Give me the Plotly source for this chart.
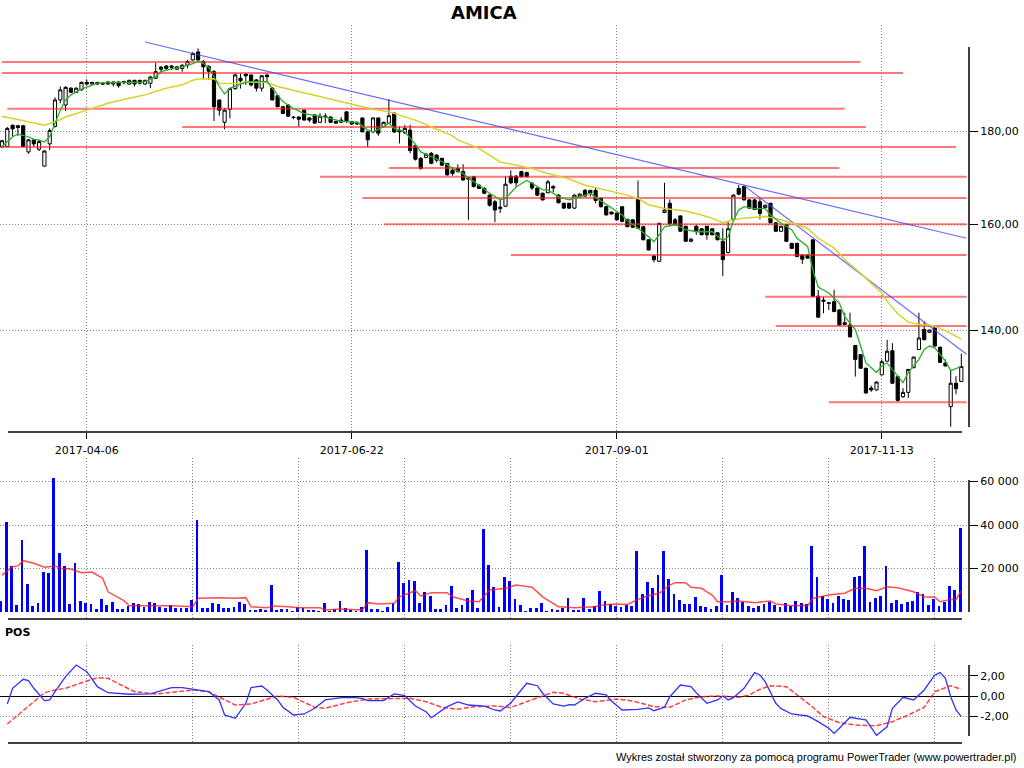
import plotly.graph_objects as go

W, H = 1024, 768

# ---------------- data ----------------
date_tick_idx = [16, 66, 116, 166]
date_tick_text = ["2017-04-06", "2017-06-22", "2017-09-01", "2017-11-13"]
minor_grid_idx = [16, 36, 56, 76, 96, 116, 136, 156, 176]

opens = [176.4, 176.5, 181.3, 181.2, 181.2, 175.3, 178.0, 175.9, 172.2, 177.1,
         181.0, 187.2, 186.0, 190.0, 189.0, 189.6, 191.4, 191.0, 191.4, 191.2,
         191.5, 191.0, 191.5, 191.3, 191.0, 191.9, 191.9, 191.0, 191.2, 192.4,
         195.1, 195.4, 195.4, 194.6, 194.8, 195.6, 196.9, 198.9, 196.5, 195.3,
         194.0, 187.2, 182.0, 185.0, 189.9, 192.4, 193.4, 193.2, 192.0, 190.0,
         193.2, 190.0, 188.2, 185.6, 186.0, 183.2, 183.2, 184.8, 183.0, 183.7,
         182.0, 183.2, 183.2, 182.2, 182.0, 184.4, 182.2, 182.0, 183.0, 179.8,
         179.8, 183.0, 181.0, 181.8, 184.1, 180.2, 179.6, 180.2, 176.7, 173.9,
         174.1, 175.0, 174.6, 173.9, 172.8, 171.3, 171.7, 171.0, 169.7, 169.9,
         168.1, 167.4, 166.0, 164.6, 163.2, 163.7, 170.0, 170.0, 171.0, 170.8,
         168.5, 167.5, 166.4, 166.5, 167.8, 166.0, 164.3, 164.3, 163.3, 165.6,
         167.0, 167.0, 167.0, 165.4, 163.6, 162.5, 162.3, 163.6, 161.0, 160.9,
         165.1, 159.5, 156.9, 153.7, 152.7, 162.4, 164.3, 160.9, 161.7, 159.6,
         156.6, 159.6, 159.1, 159.6, 159.1, 158.3, 156.6, 154.4, 161.0, 167.4,
         167.8, 165.0, 165.0, 164.6, 163.4, 164.3, 160.3, 158.6, 159.9, 156.2,
         156.2, 153.9, 153.9, 156.9, 146.1, 145.4, 144.9, 145.1, 143.6, 141.3,
         140.9, 137.3, 135.7, 133.4, 130.1, 129.8, 132.3, 134.6, 136.4, 132.0,
         128.7, 129.4, 133.5, 136.6, 140.1, 139.6, 140.4, 137.0, 134.3, 127.1,
         130.9, 131.2]
highs = [178.0, 180.9, 181.5, 181.4, 181.4, 178.2, 178.2, 178.0, 175.7, 180.6,
         187.8, 190.4, 190.5, 190.2, 190.2, 191.6, 192.0, 191.5, 191.5, 191.4,
         191.6, 191.6, 191.6, 191.8, 192.0, 192.0, 192.0, 192.0, 193.0, 196.2,
         195.4, 195.6, 195.6, 195.4, 195.8, 196.9, 198.9, 199.8, 196.9, 195.6,
         194.4, 187.2, 185.3, 189.9, 193.6, 193.6, 193.6, 193.2, 192.2, 193.2,
         193.3, 190.3, 188.4, 185.8, 186.2, 183.4, 183.4, 184.9, 183.2, 183.8,
         184.1, 184.1, 183.4, 182.3, 183.2, 184.4, 182.3, 182.1, 183.0, 180.0,
         183.0, 183.0, 182.1, 187.4, 184.2, 181.0, 181.4, 181.4, 176.9, 174.2,
         175.1, 175.3, 174.8, 174.0, 172.8, 172.0, 172.6, 172.6, 169.9, 170.1,
         168.3, 167.7, 166.2, 165.0, 165.0, 170.0, 171.3, 170.3, 171.2, 171.0,
         168.8, 167.6, 166.5, 169.2, 168.1, 166.2, 164.4, 164.4, 166.2, 166.4,
         167.3, 167.1, 167.5, 165.4, 163.7, 162.5, 162.3, 163.7, 161.1, 161.0,
         169.1, 159.7, 157.0, 153.9, 160.3, 168.6, 165.1, 161.3, 161.8, 159.7,
         157.3, 159.9, 159.1, 159.7, 159.1, 158.3, 159.2, 160.6, 166.2, 168.1,
         168.0, 165.2, 165.2, 165.4, 164.0, 164.4, 160.4, 159.7, 160.0, 156.3,
         156.3, 154.0, 154.0, 156.9, 147.3, 146.0, 144.9, 147.3, 143.7, 143.1,
         143.1, 137.3, 135.8, 133.5, 130.5, 131.2, 134.9, 138.3, 137.7, 132.2,
         130.1, 133.3, 135.4, 143.1, 141.5, 140.1, 140.4, 137.1, 134.9, 133.2,
         132.1, 135.9]
lows = [176.2, 176.4, 178.7, 178.9, 176.3, 174.9, 176.4, 175.5, 172.1, 175.7,
        180.8, 186.4, 184.6, 188.8, 188.8, 189.4, 190.7, 190.8, 190.8, 190.8,
        190.8, 190.4, 190.1, 190.9, 190.8, 190.4, 190.9, 190.8, 190.0, 192.2,
        193.7, 194.4, 194.4, 194.4, 194.0, 194.8, 196.7, 196.7, 192.2, 192.0,
        182.3, 183.5, 180.4, 182.9, 189.6, 189.9, 190.8, 190.4, 189.2, 189.2,
        191.2, 187.1, 185.5, 183.9, 183.3, 182.7, 181.0, 182.4, 182.0, 181.6,
        181.8, 181.8, 181.8, 181.6, 181.8, 181.8, 181.4, 181.4, 179.8, 176.4,
        179.5, 178.9, 180.8, 181.6, 179.5, 177.2, 179.3, 175.0, 173.4, 171.4,
        173.9, 172.6, 173.0, 172.2, 170.1, 170.1, 170.8, 169.1, 160.9, 167.6,
        167.3, 166.2, 163.6, 160.4, 162.3, 163.5, 168.3, 167.8, 169.8, 169.8,
        167.1, 165.8, 164.9, 166.4, 166.6, 164.3, 163.1, 163.1, 163.1, 165.4,
        165.7, 165.7, 164.3, 163.4, 161.8, 162.0, 160.8, 160.4, 159.5, 159.3,
        159.1, 156.8, 154.8, 152.5, 152.6, 162.3, 160.0, 159.7, 158.5, 156.5,
        156.4, 157.9, 157.8, 156.9, 157.8, 156.8, 149.9, 154.2, 160.9, 166.0,
        164.9, 163.1, 162.9, 161.0, 163.3, 160.2, 158.5, 158.5, 156.5, 155.2,
        153.5, 152.2, 153.2, 146.0, 142.2, 143.0, 143.6, 143.2, 140.8, 140.9,
        138.7, 132.0, 133.4, 129.2, 129.5, 129.7, 132.2, 134.5, 130.9, 127.9,
        128.5, 128.5, 133.4, 136.5, 138.2, 139.5, 137.1, 134.3, 133.7, 123.9,
        129.1, 131.1]
closes = [177.8, 180.6, 180.5, 180.8, 176.5, 178.0, 177.1, 177.6, 175.5, 180.1,
          187.2, 189.6, 190.2, 189.0, 190.0, 191.4, 191.0, 191.4, 191.0, 191.0,
          191.0, 191.5, 190.6, 191.6, 191.9, 191.0, 191.2, 191.9, 192.7, 194.0,
          194.6, 194.8, 195.1, 195.2, 195.6, 196.5, 198.5, 196.9, 195.2, 194.1,
          185.6, 184.8, 184.8, 189.9, 193.2, 191.8, 193.0, 190.8, 190.0, 193.0,
          192.8, 187.2, 185.6, 184.0, 183.4, 183.1, 182.7, 182.5, 182.5, 181.8,
          183.4, 183.4, 182.0, 181.8, 182.5, 182.3, 181.6, 181.6, 179.8, 178.0,
          183.0, 179.5, 182.0, 183.5, 179.8, 179.8, 180.6, 175.6, 173.7, 171.7,
          174.8, 172.8, 173.5, 172.4, 170.3, 170.6, 171.0, 169.2, 169.4, 167.8,
          167.4, 166.4, 163.9, 162.9, 163.5, 168.3, 168.6, 168.6, 169.9, 169.9,
          167.5, 166.0, 165.0, 168.8, 167.5, 164.4, 163.3, 163.3, 166.0, 166.2,
          165.8, 166.4, 164.9, 163.6, 161.9, 162.1, 160.9, 160.6, 159.5, 159.4,
          159.2, 156.9, 154.9, 153.0, 160.2, 162.9, 160.1, 159.9, 158.6, 156.6,
          157.0, 158.6, 157.9, 157.9, 157.9, 156.9, 153.0, 159.1, 166.0, 166.2,
          165.0, 163.3, 163.0, 162.2, 163.9, 160.3, 158.6, 159.6, 156.6, 155.2,
          153.6, 153.1, 153.3, 146.1, 142.3, 145.2, 144.8, 143.3, 140.9, 141.0,
          138.8, 134.9, 133.4, 129.3, 129.8, 131.1, 134.5, 136.3, 130.9, 128.1,
          129.4, 133.2, 135.3, 138.6, 138.3, 140.0, 137.2, 134.4, 133.8, 130.9,
          130.0, 133.7]
volume = [5000, 41500, 21200, 3200, 33100, 12900, 2800, 4100, 18400, 17900,
          61600, 27100, 21200, 3700, 22500, 5100, 4100, 3700, 1400, 6000,
          3200, 4600, 1400, 1400, 2800, 4100, 3700, 2300, 4600, 4100,
          2300, 1800, 3200, 1800, 1800, 1800, 5500, 42300, 1800, 1800,
          4100, 3700, 1800, 1800, 2300, 4600, 3700, 900, 900, 1400,
          900, 12400, 900, 1400, 1400, 300, 2300, 1800, 900, 900,
          300, 4100, 300, 1400, 5100, 1800, 900, 300, 2300, 28500,
          1400, 1400, 300, 2300, 4100, 23000, 13300, 14700, 14300, 4100,
          9200, 7400, 1400, 1400, 3200, 12000, 1800, 3200, 6400, 10100,
          1800, 38200, 21600, 11500, 2300, 16100, 14300, 6000, 3200, 300,
          1800, 1800, 4100, 300, 1400, 900, 1800, 6400, 900, 900,
          6400, 1400, 2800, 9700, 5100, 3700, 2800, 2300, 3200, 2800,
          28000, 8300, 13800, 11000, 17000, 28000, 15200, 8300, 5500, 3700,
          3700, 6900, 2800, 2300, 1400, 2800, 17000, 3200, 9200, 6400,
          4600, 2800, 1800, 2800, 3700, 4600, 3200, 2300, 4100, 2800,
          5100, 4100, 3700, 30400, 16100, 7400, 6000, 4100, 7400, 6000,
          5500, 16100, 16600, 30400, 4600, 6400, 7400, 21200, 4100, 5500,
          3700, 4600, 5100, 9200, 8300, 3200, 6000, 2800, 4600, 12000,
          10100, 38600]

# short moving average (green), sampled from the chart
ma_short_idx = [0, 2, 3, 5, 6, 7, 8, 9, 10, 11, 12, 13, 15, 17, 18, 22, 26, 27, 29, 30,
                32, 34, 36, 37, 38, 39, 40, 41, 42, 43, 46, 47, 50, 51, 53, 55, 57, 61, 64, 67,
                69, 70, 72, 73, 74, 76, 78, 79, 81, 83, 85, 87, 88, 90, 92, 94, 95, 97, 99, 100,
                102, 103, 105, 107, 109, 111, 113, 115, 117, 118, 120, 122, 123, 124, 125, 127, 129, 131, 134, 136,
                137, 138, 139, 140, 142, 144, 145, 147, 149, 150, 152, 153, 154, 156, 158, 159, 161, 162, 163, 165,
                166, 167, 169, 170, 171, 173, 174, 175, 176, 178, 179, 181]
ma_short_val = [176.5, 178.7, 179.3, 178.7, 178.1, 178.0, 177.5, 178.7, 181.7, 184.8, 187.2, 188.4, 189.8, 190.8, 191.2, 191.4, 191.4, 191.6, 192.8, 194.0,
                194.7, 195.2, 196.0, 196.6, 196.0, 195.1, 192.8, 190.4, 188.6, 190.0, 191.4, 191.6, 191.6, 190.0, 186.8, 185.2, 184.0, 183.2, 182.2, 182.0,
                180.2, 179.8, 181.0, 181.8, 180.6, 179.8, 177.0, 175.3, 174.3, 173.2, 171.7, 170.6, 169.6, 168.1, 166.4, 165.0, 165.3, 167.7, 169.1, 168.5,
                167.1, 167.1, 165.7, 165.0, 165.6, 166.4, 164.8, 163.3, 161.9, 160.7, 159.2, 157.5, 156.5, 157.9, 159.5, 159.9, 158.9, 158.5, 158.5, 156.7,
                157.5, 160.8, 162.9, 163.6, 163.2, 163.2, 161.9, 160.2, 158.9, 157.2, 155.6, 151.0, 147.8, 146.7, 144.8, 142.4, 140.1, 137.2, 134.3, 132.7,
                133.8, 134.3, 132.0, 131.0, 132.7, 134.9, 136.6, 137.2, 136.9, 134.6, 133.0, 133.7]

# long moving average (yellow), sampled from the chart
ma_long_idx = [0, 3, 7, 8, 10, 12, 16, 20, 24, 27, 29, 31, 34, 36, 37, 40, 41, 44, 46, 50,
               52, 56, 60, 64, 67, 70, 73, 75, 78, 81, 85, 86, 90, 94, 97, 100, 103, 107, 110, 114,
               118, 120, 122, 125, 129, 132, 134, 136, 138, 140, 144, 147, 149, 152, 154, 157, 159, 162, 164, 166,
               167, 169, 171, 173, 175, 177, 179, 181]
ma_long_val = [183.4, 182.6, 181.7, 181.3, 182.1, 183.2, 184.8, 186.4, 187.6, 188.4, 189.2, 190.0, 190.8, 191.9, 192.2, 192.3, 191.2, 191.1, 191.4, 191.4,
               190.4, 189.2, 188.0, 186.8, 186.0, 185.0, 184.4, 183.6, 182.5, 180.9, 178.9, 178.0, 176.1, 173.1, 172.4, 171.7, 170.6, 169.4, 168.1, 167.1,
               166.0, 165.3, 164.0, 163.2, 162.7, 161.9, 161.2, 160.3, 160.9, 161.2, 161.6, 160.9, 160.2, 159.2, 157.2, 155.3, 153.0, 150.4, 148.5, 146.7,
               145.2, 142.9, 141.4, 141.0, 140.9, 140.3, 139.4, 138.4]

# support / resistance levels
level_price = [196.4, 193.7, 185.1, 180.9, 176.4, 171.8, 169.9, 165.4, 160.0, 153.9, 146.0, 140.7, 127.8]
level_from = [0, 0, 1, 34, 0, 73, 60, 68, 72, 96, 144, 146, 156]
level_to = [162, 170, 159, 163, 180, 158, 182, 182, 182, 182, 182, 182, 182]

# trend lines
trend_from_idx = [27, 140]
trend_from_price = [201.4, 168.0]
trend_to_idx = [182, 182]
trend_to_price = [157.2, 135.8]

# volume moving average
vol_ma_idx = [0, 2, 3, 4, 6, 8, 10, 11, 13, 15, 17, 19, 20, 22, 23, 24, 28, 32, 36, 37,
              41, 44, 46, 47, 50, 51, 54, 56, 60, 61, 64, 68, 69, 71, 74, 75, 78, 79, 81, 84,
              85, 88, 90, 92, 95, 97, 100, 102, 105, 108, 112, 113, 116, 118, 120, 122, 124, 126, 127, 129,
              130, 132, 133, 134, 135, 137, 139, 142, 145, 146, 149, 152, 153, 156, 159, 161, 163, 165, 167, 169,
              172, 174, 176, 177, 179, 180, 181]
vol_ma_val = [17000, 20800, 21200, 23600, 22400, 20600, 21200, 20100, 19800, 18100, 18400, 15500, 9300, 6300, 5200, 2900, 2900, 2900, 2400, 6300,
              6600, 6300, 6600, 2400, 2000, 2800, 2400, 2000, 2000, 900, 1400, 900, 4300, 3700, 4000, 7000, 9800, 7400, 8900, 8900,
              7000, 5100, 4700, 10100, 10900, 12400, 11400, 7000, 2400, 2000, 2400, 3200, 3700, 3500, 5800, 7500, 8600, 12400, 13500, 13500,
              11400, 10900, 9300, 7800, 4700, 4700, 5100, 4300, 5100, 3700, 2900, 2900, 6300, 7800, 8600, 10900, 10900, 9800, 11600, 11200,
              9300, 7000, 6800, 4700, 5800, 5800, 9700]

# POS oscillator (blue) and its signal (red dashed)
pos_idx = [1, 2, 4, 5, 6, 8, 9, 10, 12, 14, 16, 18, 20, 24, 28, 32, 34, 37, 39, 41,
           42, 44, 46, 47, 49, 50, 52, 53, 55, 57, 59, 61, 64, 66, 68, 69, 72, 74, 76, 78,
           80, 81, 84, 86, 88, 91, 93, 94, 96, 99, 101, 102, 104, 106, 107, 108, 110, 112, 114, 115,
           117, 120, 122, 123, 125, 126, 128, 130, 131, 133, 135, 136, 137, 138, 140, 142, 143, 144, 146, 147,
           149, 152, 154, 156, 157, 158, 160, 162, 163, 165, 167, 168, 170, 172, 174, 176, 177, 178, 179, 180, 181]
pos_val = [-0.76, 0.79, 1.67, 1.54, 0.79, -0.43, -0.36, 0.45, 1.93, 3.08, 2.42, 0.95, 0.35, 0.20, 0.23, 0.85, 0.85, 0.62, 0.45, -0.36,
           -1.84, -2.17, -0.69, 0.85, 1.01, 0.62, -0.36, -1.08, -1.84, -1.74, -1.18, -0.36, -0.14, -0.10, -0.20, -0.43, -0.43, 0.23, 0.06, -0.96,
           -1.52, -2.11, -1.02, -0.56, -0.86, -0.96, -1.35, -1.45, -0.66, 1.28, 1.04, 0.30, -0.76, -0.96, -0.83, -0.86, -0.20, 0.30, 0.13, -0.46,
           -1.35, -1.28, -1.15, -1.42, -1.08, -0.04, 1.11, 0.95, 0.35, -0.69, -0.36, 0.03, -0.36, -0.14, 0.79, 2.33, 2.10, 1.44, -0.69, -1.22,
           -1.74, -1.94, -2.50, -3.15, -3.65, -3.15, -2.07, -2.24, -2.33, -3.84, -3.00, -1.18, -0.10, -0.36, 0.62, 2.10, 2.33, 1.77, -0.04, -1.35, -2.01]
pos_sig_idx = [1, 3, 6, 8, 10, 12, 15, 18, 20, 25, 29, 32, 36, 39, 44, 47, 52, 55, 59, 61,
               65, 69, 73, 77, 80, 83, 86, 89, 93, 96, 99, 102, 104, 106, 109, 112, 116, 119, 123, 126,
               129, 132, 135, 139, 141, 143, 145, 148, 150, 153, 155, 158, 161, 165, 168, 171, 174, 176, 179, 181]
pos_sig_val = [-2.73, -1.84, -0.53, 0.35, 0.62, 0.79, 1.34, 1.83, 1.77, 0.45, 0.23, 0.39, 0.62, 0.45, -0.86, -0.76, 0.03, -0.10, -1.08, -1.18,
               -0.63, -0.27, -0.27, -0.20, -0.53, -1.08, -1.28, -1.02, -0.96, -1.10, -0.53, 0.03, 0.39, 0.30, -0.27, -0.53, -0.27, -0.46, -1.02, -1.08,
               -0.36, -0.04, 0.03, -0.10, 0.13, 0.69, 1.04, 0.95, 0.13, -1.08, -2.01, -2.60, -2.83, -2.90, -2.50, -1.84, -1.08, 0.45, 1.04, 0.69]

price_ticks = [140, 160, 180]
price_tick_text = ["140,00", "160,00", "180,00"]
vol_ticks = [20000, 40000, 60000]
vol_tick_text = ["20 000", "40 000", "60 000"]
pos_ticks = [-2, 0, 2]
pos_tick_text = ["-2,00", "0,00", "2,00"]

# ---------------- layout helpers ----------------
def px(x):
    return x / W


def py(y):
    return 1 - y / H


x_right = 969
x_dom = [0, px(x_right)]
x_range = [-0.377, 182.45]
FONT = "DejaVu Sans"
GRID = "#808080"
DOT = "1px,2px"

fig = go.Figure()

# levels
lx, ly = [], []
for p, a, b in zip(level_price, level_from, level_to):
    lx += [a, b, None]
    ly += [p, p, None]
fig.add_trace(go.Scatter(x=lx, y=ly, mode="lines", xaxis="x", yaxis="y",
                         line=dict(color="rgba(255,30,30,0.6)", width=2), hoverinfo="skip"))

# trend lines
tx, ty = [], []
for a, pa, b, pb in zip(trend_from_idx, trend_from_price, trend_to_idx, trend_to_price):
    tx += [a, b, None]
    ty += [pa, pb, None]
fig.add_trace(go.Scatter(x=tx, y=ty, mode="lines", xaxis="x", yaxis="y",
                         line=dict(color="rgba(70,70,255,0.8)", width=1.2), hoverinfo="skip"))

idx = list(range(len(closes)))
fig.add_trace(go.Candlestick(
    x=idx, open=opens, high=highs, low=lows, close=closes, xaxis="x", yaxis="y",
    increasing=dict(line=dict(color="black", width=1), fillcolor="white"),
    decreasing=dict(line=dict(color="black", width=1), fillcolor="black"),
    whiskerwidth=0, hoverinfo="skip"))

fig.add_trace(go.Scatter(x=ma_long_idx, y=ma_long_val, mode="lines", xaxis="x", yaxis="y",
                         line=dict(color="rgb(215,210,40)", width=1.5), hoverinfo="skip"))
fig.add_trace(go.Scatter(x=ma_short_idx, y=ma_short_val, mode="lines", xaxis="x", yaxis="y",
                         line=dict(color="rgb(40,175,40)", width=1.3), hoverinfo="skip"))

# volume
fig.add_trace(go.Bar(x=idx, y=volume, xaxis="x2", yaxis="y2", width=0.52, offset=-0.48,
                     marker=dict(color="#0000ff", line=dict(width=0)), hoverinfo="skip"))
fig.add_trace(go.Scatter(x=vol_ma_idx, y=vol_ma_val, mode="lines", xaxis="x2", yaxis="y2",
                         line=dict(color="rgba(255,20,20,0.75)", width=1.5), hoverinfo="skip"))

# POS
fig.add_trace(go.Scatter(x=pos_sig_idx, y=pos_sig_val, mode="lines", xaxis="x3", yaxis="y3",
                         line=dict(color="rgba(255,30,30,0.85)", width=1.5, dash="5px,2px"),
                         hoverinfo="skip"))
fig.add_trace(go.Scatter(x=pos_idx, y=pos_val, mode="lines", xaxis="x3", yaxis="y3",
                         line=dict(color="rgb(50,50,255)", width=1.3), hoverinfo="skip"))

tickfont = dict(family=FONT, size=11, color="black")

common_x = dict(domain=x_dom, range=x_range, showline=False, zeroline=False,
                showgrid=True, gridcolor=GRID, griddash=DOT, gridwidth=1)

fig.update_layout(
    width=W, height=H, margin=dict(l=0, r=0, t=0, b=0),
    paper_bgcolor="white", plot_bgcolor="white", showlegend=False,
    boxgap=0.4, boxgroupgap=0, bargap=0,
    xaxis=dict(**common_x, anchor="y", tickmode="array", tickvals=date_tick_idx,
               ticktext=date_tick_text, ticks="outside", ticklen=6, tickcolor="black",
               tickfont=tickfont, ticklabelstandoff=2, rangeslider=dict(visible=False)),
    xaxis2=dict(**common_x, anchor="y2", tickmode="array", tickvals=minor_grid_idx,
                showticklabels=False, ticks=""),
    xaxis3=dict(**common_x, anchor="y3", tickmode="array", tickvals=minor_grid_idx,
                showticklabels=False, ticks=""),
    yaxis=dict(domain=[py(432), py(25)], type="log", range=[2.090215, 2.3134], side="right",
               anchor="x", tickmode="array", tickvals=price_ticks, ticktext=price_tick_text,
               ticks="outside", ticklen=8, tickcolor="black", tickfont=tickfont,
               showgrid=True, gridcolor=GRID, griddash=DOT, zeroline=False, showline=False),
    yaxis2=dict(domain=[py(619), py(458)], range=[-3220, 70840], side="right", anchor="x2",
                tickmode="array", tickvals=vol_ticks, ticktext=vol_tick_text,
                ticks="outside", ticklen=8, tickcolor="black", tickfont=tickfont,
                showgrid=True, gridcolor=GRID, griddash=DOT, zeroline=False, showline=False),
    yaxis3=dict(domain=[py(743), py(645)], range=[-4.60, 5.05], side="right", anchor="x3",
                tickmode="array", tickvals=pos_ticks, ticktext=pos_tick_text,
                ticks="outside", ticklen=8, tickcolor="black", tickfont=tickfont,
                showgrid=True, gridcolor=GRID, griddash=DOT,
                zeroline=True, zerolinecolor="black", zerolinewidth=1, showline=False),
)

shapes = []
# bottom axis lines
for yb in (432, 619, 743):
    shapes.append(dict(type="line", xref="paper", yref="paper", x0=px(8), x1=px(962),
                       y0=py(yb), y1=py(yb), line=dict(color="black", width=1.5)))
# right axis lines
for y0, y1 in ((47, 427), (480, 612), (665, 736)):
    shapes.append(dict(type="line", xref="paper", yref="paper", x0=px(x_right), x1=px(x_right),
                       y0=py(y0), y1=py(y1), line=dict(color="black", width=1.5)))
fig.update_layout(shapes=shapes)

fig.add_annotation(text="<b>AMICA</b>", xref="paper", yref="paper", x=px(484), y=py(12),
                   xanchor="center", yanchor="middle", showarrow=False,
                   font=dict(family=FONT, size=18, color="black"))
fig.add_annotation(text="<b>POS</b>", xref="paper", yref="paper", x=px(3), y=py(632),
                   xanchor="left", yanchor="middle", showarrow=False,
                   font=dict(family=FONT, size=11, color="black"))
fig.add_annotation(text="Wykres został stworzony za pomocą programu PowerTrader (www.powertrader.pl)",
                   xref="paper", yref="paper", x=px(1019), y=py(757), xanchor="right",
                   yanchor="middle", showarrow=False,
                   font=dict(family="Liberation Sans", size=11, color="black"))

# place the 1024x768 figure flush with the page corner (no default body margin)
fig.write_html("out.html", config={"displayModeBar": False},
               post_script="document.body.style.margin='0px';")
